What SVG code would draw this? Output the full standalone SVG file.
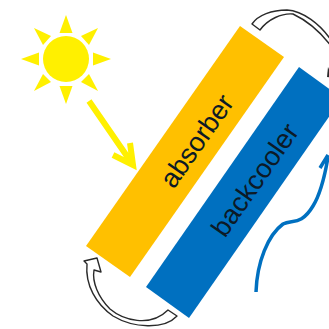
<svg xmlns="http://www.w3.org/2000/svg" width="329" height="329" viewBox="0 0 329 329">
<style>
.lbl{font-family:"Liberation Sans",Arial,sans-serif;font-size:27px;fill:#0c1a26;text-anchor:middle}
.hollow{fill:#fff;stroke:#2a2a2a;stroke-width:1.400;stroke-linejoin:round}
</style>
<rect width="329" height="329" fill="#fff"/>
<g id="sun" fill="#fff000">
<circle cx="66" cy="59" r="23"/>
<polygon points="66,15 59.500,33 72.500,33"/>
<polygon points="66,104 59.500,86 72.500,86"/>
<polygon points="21,59 39,52.500 39,65.500"/>
<polygon points="111,59 93,52.500 93,65.500"/>
<polygon points="34,28 51,36 43,45"/>
<polygon points="98,28 81,36 89,45"/>
<polygon points="34,91 51,82 43,74"/>
<polygon points="98,91 81,82 89,74"/>
</g>
<g id="absorber">
<polygon points="240,26 284,57 130,277 86,246" fill="#ffc000"/>
<text class="lbl" transform="translate(197,141) rotate(-55) translate(0,9)">absorber</text>
</g>
<g id="backcooler">
<polygon points="299,67 342,98 189,318 146,287" fill="#0070c0"/>
<text class="lbl" transform="translate(255,180) rotate(-55) translate(0,9)">backcooler</text>
</g>
<g id="connectors">
<path d="M89,101 L131,162 M113,155 L133,165 L130,143" fill="none" stroke="#fff000" stroke-width="6"/>
<path d="M256,292 C257,262 268,235 283,224 C292,219 301,226 313,206 C321,193 325,175 328,157 M320,168 L328,155" fill="none" stroke="#0070c0" stroke-width="3.500"/>
<path class="hollow" d="M252,24 C258,15 272,10 287,10 C303,11 320,24 331,40 L331,46 C322,34 310,22 293,14 C282,13 268,19 260,30 Z"/>
<path d="M328,67 L333,78 L327,77 Z" fill="#2a2a2a"/>
<path class="hollow" d="M84,261 L97,258 L101,272 L94,270 C92,282 98,297 110,309 C123,320 150,328 168,310 L177,316 C164,330 133,328 113,316 C96,304 85,285 87,264 Z"/>
</g>
</svg>
